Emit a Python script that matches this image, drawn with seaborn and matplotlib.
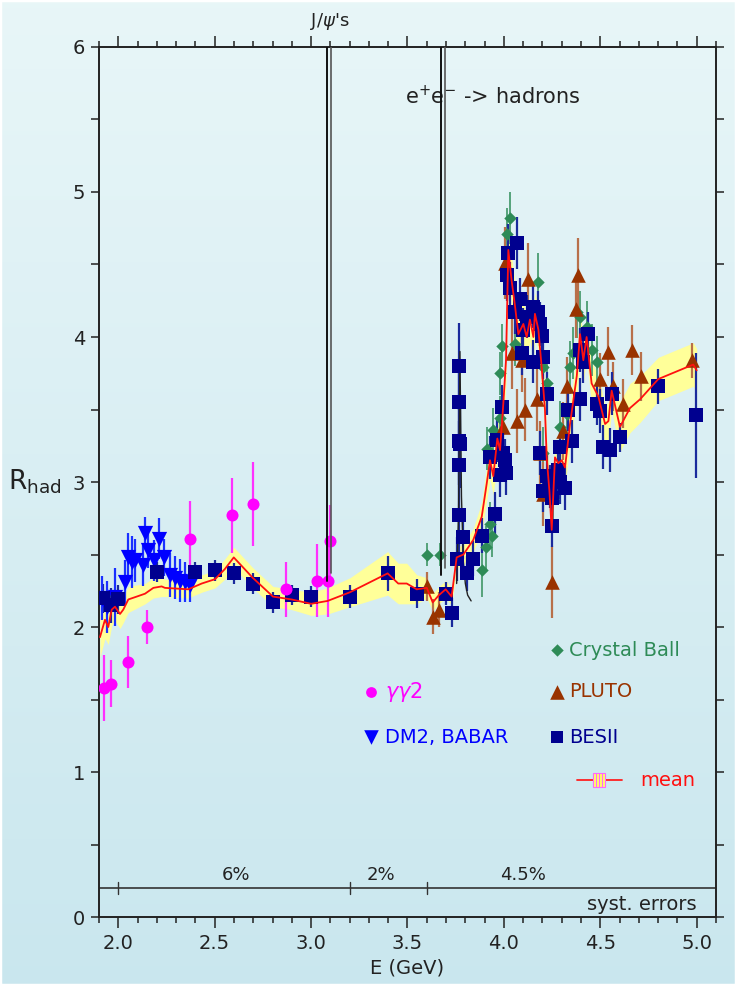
import numpy as np
import matplotlib
matplotlib.use("Agg")
import matplotlib.pyplot as plt
import seaborn as sns
from matplotlib.ticker import MultipleLocator
from matplotlib.patches import Rectangle

sns.set_theme(style="white")
plt.rcParams['font.family'] = ['DejaVu Sans']
plt.rcParams['mathtext.fontset'] = 'dejavusans'

# ---------------- data ----------------
gg2_E = [1.926, 1.960, 2.050, 2.150, 2.370, 2.590, 2.700, 2.870, 3.030, 3.090, 3.100]
gg2_R = [1.58, 1.61, 1.76, 2.00, 2.61, 2.77, 2.85, 2.26, 2.32, 2.32, 2.59]
gg2_err = [0.23, 0.16, 0.18, 0.12, 0.26, 0.26, 0.29, 0.19, 0.25, 0.25, 0.25]

dm2_E = [1.914, 1.940, 1.983, 2.035, 2.050, 2.069, 2.087, 2.130, 2.139, 2.156, 2.187,
         2.210, 2.237, 2.268, 2.294, 2.320, 2.346, 2.372]
dm2_R = [2.20, 2.14, 2.21, 2.31, 2.48, 2.45, 2.46, 2.43, 2.65, 2.53, 2.46,
         2.61, 2.48, 2.36, 2.34, 2.32, 2.31, 2.29]
dm2_err = [0.15, 0.18, 0.20, 0.15, 0.17, 0.18, 0.15, 0.15, 0.11, 0.12, 0.14,
           0.14, 0.13, 0.15, 0.15, 0.15, 0.14, 0.12]

bes_E = [1.922, 1.960, 2.000, 2.200, 2.400, 2.500, 2.600, 2.700, 2.800, 2.900, 3.000,
         3.200, 3.400, 3.548, 3.698, 3.729,
         3.768, 3.768, 3.766, 3.770, 3.768, 3.766, 3.755, 3.786, 3.807, 3.841, 3.885,
         3.928, 3.954, 3.963, 3.980, 3.989, 3.997, 4.006, 4.010,
         4.015, 4.023, 4.032, 4.058, 4.067, 4.084, 4.095, 4.101, 4.118, 4.153, 4.153,
         4.179, 4.187, 4.196, 4.204, 4.222,
         4.187, 4.204, 4.222, 4.239, 4.248, 4.250, 4.282, 4.291, 4.317, 4.291, 4.334,
         4.352, 4.395, 4.395, 4.412, 4.438, 4.481, 4.499, 4.516, 4.550, 4.559, 4.602,
         4.801, 4.996]
bes_R = [2.20, 2.15, 2.19, 2.38, 2.38, 2.39, 2.37, 2.30, 2.17, 2.22, 2.21,
         2.21, 2.37, 2.23, 2.23, 2.10,
         3.80, 3.55, 3.28, 3.26, 3.12, 2.77, 2.47, 2.62, 2.37, 2.47, 2.63,
         3.17, 2.78, 3.29, 3.05, 3.52, 3.20, 3.15, 3.06,
         4.43, 4.58, 4.34, 4.17, 4.65, 4.26, 3.89, 4.05, 4.14, 4.21, 3.83,
         4.17, 4.09, 4.01, 3.86, 3.61,
         3.20, 2.94, 3.04, 2.97, 2.70, 2.89, 3.08, 3.00, 2.96, 3.24, 3.50,
         3.28, 3.57, 3.91, 3.83, 4.02, 3.54, 3.49, 3.24, 3.22, 3.61, 3.31,
         3.66, 3.46]
bes_err = [0.10, 0.12, 0.10, 0.07, 0.07, 0.07, 0.07, 0.07, 0.07, 0.07, 0.07,
           0.08, 0.12, 0.10, 0.08, 0.10,
           0.30, 0.30, 0.30, 0.30, 0.30, 0.30, 0.15, 0.15, 0.12, 0.12, 0.12,
           0.15, 0.15, 0.15, 0.15, 0.15, 0.15, 0.15, 0.15,
           0.18, 0.20, 0.18, 0.15, 0.18, 0.15, 0.15, 0.15, 0.15, 0.15, 0.15,
           0.15, 0.15, 0.15, 0.15, 0.15,
           0.15, 0.15, 0.15, 0.15, 0.15, 0.15, 0.15, 0.15, 0.15, 0.15, 0.15,
           0.15, 0.15, 0.15, 0.15, 0.15, 0.15, 0.15, 0.15, 0.15, 0.15, 0.10,
           0.12, 0.43]

pluto_E = [3.600, 3.630, 3.665, 3.997, 4.006, 4.040, 4.067, 4.092, 4.110, 4.127, 4.170,
           4.187, 4.204, 4.248, 4.308, 4.325, 4.374, 4.386, 4.499, 4.542, 4.568, 4.619,
           4.662, 4.711, 4.977]
pluto_R = [2.28, 2.07, 2.12, 3.38, 4.51, 3.89, 3.42, 3.84, 3.50, 4.40, 3.57,
           3.20, 2.92, 2.31, 3.35, 3.66, 4.19, 4.43, 3.71, 3.90, 3.66, 3.54,
           3.91, 3.73, 3.84]
pluto_err = [0.10, 0.12, 0.12, 0.20, 0.25, 0.25, 0.22, 0.22, 0.22, 0.25, 0.22,
             0.22, 0.22, 0.25, 0.20, 0.20, 0.20, 0.25, 0.18, 0.17, 0.17, 0.17,
             0.17, 0.17, 0.12]

cb_E = [3.600, 3.669, 3.885, 3.905, 3.911, 3.928, 3.937, 3.942, 3.979, 3.980, 3.989,
        4.015, 4.032, 4.060, 4.179, 4.204, 4.222, 4.204, 4.257, 4.291, 4.325, 4.343,
        4.360, 4.378, 4.395, 4.429, 4.455, 4.481]
cb_R = [2.50, 2.50, 2.39, 2.55, 3.23, 2.71, 2.63, 3.36, 3.44, 3.75, 3.94,
        4.71, 4.82, 3.95, 4.38, 3.79, 3.68, 3.20, 2.88, 3.38, 3.47, 3.79,
        3.89, 4.17, 4.14, 4.07, 3.91, 3.83]
cb_err = [0.08, 0.08, 0.18, 0.15, 0.15, 0.15, 0.15, 0.15, 0.15, 0.15, 0.15,
          0.18, 0.18, 0.15, 0.20, 0.18, 0.18, 0.18, 0.18, 0.18, 0.18, 0.18,
          0.18, 0.18, 0.18, 0.18, 0.18, 0.18]

mean_E = [1.905, 1.931, 1.948, 1.966, 1.983, 2.009, 2.026, 2.052, 2.096, 2.139, 2.182,
          2.225, 2.242, 2.363, 2.433, 2.502, 2.553, 2.599, 2.697, 2.802, 2.899, 3.000,
          3.086, 3.202, 3.397, 3.452, 3.496, 3.548, 3.600, 3.631, 3.663, 3.698, 3.729,
          3.755, 3.790, 3.841, 3.885, 3.911, 3.928, 3.945, 3.966, 3.980, 3.997, 4.011,
          4.023, 4.040, 4.058, 4.075, 4.101, 4.118, 4.135, 4.153, 4.161, 4.179, 4.196,
          4.213, 4.222, 4.236, 4.248, 4.265, 4.282, 4.300, 4.317, 4.343, 4.378, 4.395,
          4.412, 4.429, 4.455, 4.490, 4.525, 4.542, 4.559, 4.602, 4.654, 4.706, 4.801,
          4.982, 5.000]
mean_R = [1.93, 2.05, 2.00, 2.12, 2.14, 2.09, 2.12, 2.19, 2.21, 2.23, 2.27,
          2.28, 2.27, 2.26, 2.30, 2.33, 2.40, 2.48, 2.34, 2.21, 2.19, 2.16,
          2.18, 2.24, 2.37, 2.30, 2.30, 2.26, 2.27, 2.17, 2.22, 2.26, 2.21,
          2.48, 2.50, 2.60, 2.76, 2.99, 3.15, 3.04, 3.30, 3.22, 3.54, 3.84,
          4.60, 4.39, 4.21, 4.02, 4.09, 4.00, 4.12, 4.00, 4.16, 4.05, 3.79,
          3.50, 3.17, 2.94, 2.67, 3.17, 3.13, 3.15, 3.10, 3.40, 3.73, 4.02,
          3.84, 4.00, 3.68, 3.59, 3.40, 3.42, 3.63, 3.38, 3.51, 3.57, 3.71,
          3.81, 3.77]
mean_err = [0.14, 0.13, 0.12, 0.11, 0.10, 0.10, 0.09, 0.09, 0.08, 0.07, 0.07,
            0.07, 0.06, 0.06, 0.06, 0.06, 0.07, 0.07, 0.07, 0.07, 0.07, 0.08,
            0.09, 0.10, 0.15, 0.14, 0.14, 0.10, 0.07, 0.06, 0.06, 0.06, 0.06,
            0.07, 0.07, 0.08, 0.10, 0.12, 0.13, 0.13, 0.14, 0.14, 0.15, 0.16,
            0.18, 0.17, 0.16, 0.15, 0.15, 0.15, 0.15, 0.15, 0.15, 0.15, 0.15,
            0.14, 0.13, 0.13, 0.13, 0.13, 0.13, 0.13, 0.13, 0.14, 0.15, 0.16,
            0.15, 0.15, 0.15, 0.14, 0.13, 0.13, 0.14, 0.17, 0.17, 0.16, 0.15,
            0.15, 0.15]

res_names = ["J/psi", "psi(2S)"]
res_E_lo = [3.085, 3.676]
res_E_hi = [3.101, 3.695]
res_base = [2.32, 2.36]

psi3770_E = [3.755, 3.765, 3.772, 3.780, 3.790, 3.800, 3.812, 3.830]
psi3770_R = [2.30, 2.80, 3.90, 2.90, 2.45, 2.30, 2.22, 2.18]

syst_E = [2.0, 3.2, 3.6]
syst_labels = ["6%", "2%", "4.5%"]
syst_label_E = [2.61, 3.36, 4.10]

# ---------------- figure ----------------
fig = plt.figure(figsize=(7.36, 9.85), dpi=100)
bg = fig.add_axes([0, 0, 1, 1], zorder=-10)
g = np.linspace(0, 1, 256)[:, None, None]
top = np.array([0.91, 0.965, 0.972])
bot = np.array([0.79, 0.905, 0.935])
bg.imshow(top + (bot - top) * g, aspect='auto', extent=[0, 1, 0, 1])
bg.set_xlim(0, 1); bg.set_ylim(0, 1)
bg.axis('off')
fig.patches.append(Rectangle((0, 0), 1, 1, transform=fig.transFigure, fill=False,
                             edgecolor='white', lw=2.5, zorder=100))

ax = fig.add_axes([0.1345, 0.069, 0.8383, 0.8833])
ax.patch.set_alpha(0)
ax.set_xlim(1.9, 5.1)
ax.set_ylim(0, 6)

# band and mean
lo = [r - e for r, e in zip(mean_R, mean_err)]
hi = [r + e for r, e in zip(mean_R, mean_err)]
ax.fill_between(mean_E, lo, hi, color='#ffff99', lw=0, zorder=1)

# error bars
ax.errorbar(cb_E, cb_R, yerr=cb_err, fmt='none', ecolor='#55a27a', elinewidth=1.4, zorder=2)
ax.errorbar(pluto_E, pluto_R, yerr=pluto_err, fmt='none', ecolor='#b8704a', elinewidth=1.6, zorder=2)
ax.errorbar(bes_E, bes_R, yerr=bes_err, fmt='none', ecolor='#1a2a9c', elinewidth=1.6, zorder=2)
ax.errorbar(dm2_E, dm2_R, yerr=dm2_err, fmt='none', ecolor='#1a30ff', elinewidth=1.6, zorder=2)
ax.errorbar(gg2_E, gg2_R, yerr=gg2_err, fmt='none', ecolor='#ff30ff', elinewidth=1.6, zorder=2)

# markers
sns.scatterplot(x=cb_E, y=cb_R, marker='D', s=40, color='#2e8b57', linewidth=0, ax=ax, zorder=3)
sns.scatterplot(x=pluto_E, y=pluto_R, marker='^', s=110, color='#993300', linewidth=0, ax=ax, zorder=3)
sns.scatterplot(x=bes_E, y=bes_R, marker='s', s=95, color='#00008f', linewidth=0, ax=ax, zorder=3.2)
sns.scatterplot(x=dm2_E, y=dm2_R, marker='v', s=120, color='#0000ff', linewidth=0, ax=ax, zorder=3.1)
sns.scatterplot(x=gg2_E, y=gg2_R, marker='o', s=75, color='#ff00ff', linewidth=0, ax=ax, zorder=3.3)

sns.lineplot(x=mean_E, y=mean_R, sort=False, estimator=None, color='#ff1010', lw=1.3, ax=ax, zorder=4)

# narrow resonances
for elo, ehi, b in zip(res_E_lo, res_E_hi, res_base):
    ax.plot([elo, elo], [b, 6.0], color='#111111', lw=1.4, zorder=5, clip_on=True)
    ax.plot([ehi, ehi], [b + 0.05, 6.0], color='#555555', lw=1.2, zorder=5, clip_on=True)
ax.plot(psi3770_E, psi3770_R, color='#222222', lw=1.0, zorder=2.5)

# systematic errors line
ax.axhline(0.2, color='#333333', lw=1.2, zorder=2)
for e in syst_E:
    ax.plot([e, e], [0.16, 0.24], color='#333333', lw=1.0)
for lab, e in zip(syst_labels, syst_label_E):
    ax.text(e, 0.29, lab, ha='center', va='center', fontsize=13, color='#222222')
ax.text(5.0, 0.085, 'syst. errors', ha='right', va='center', fontsize=14, color='#222222')

# axes styling
for sp in ax.spines.values():
    sp.set_color('#222222'); sp.set_linewidth(1.4)
ax.xaxis.set_major_locator(MultipleLocator(0.5))
ax.xaxis.set_minor_locator(MultipleLocator(0.1))
ax.yaxis.set_major_locator(MultipleLocator(1))
ax.yaxis.set_minor_locator(MultipleLocator(0.5))
ax.tick_params(axis='x', which='both', top=True, bottom=True, direction='out',
               labeltop=False, color='#222222', width=1.1)
ax.tick_params(axis='x', which='major', length=8, pad=4, labelsize=14, labelcolor='#222222')
ax.tick_params(axis='x', which='minor', length=4)
ax.tick_params(axis='y', which='both', left=True, right=True, direction='out',
               labelright=False, color='#222222', width=1.1, length=6)
ax.tick_params(axis='y', which='major', pad=4, labelsize=14, labelcolor='#222222')
ax.set_xlabel('')
ax.set_ylabel('')

fig.text(8 / 736, 1 - 482 / 985, r'R$_{\mathregular{had}}$', fontsize=19, color='#222222',
         ha='left', va='center')
fig.text(407 / 736, 1 - 968 / 985, 'E (GeV)', fontsize=14, color='#222222', ha='center', va='center')
fig.text(330 / 736, 1 - 21 / 985, r"J/$\psi$'s", fontsize=13, color='#222222', ha='center', va='center')
ax.text(3.487, 5.66, r'e$^{+}$e$^{-}$ -> hadrons', fontsize=15, color='#222222', ha='left', va='center')

# legend (in-plot)
ax.scatter([4.275], [1.84], marker='D', s=40, color='#2e8b57', lw=0)
ax.text(4.338, 1.84, 'Crystal Ball', color='#2e8b57', fontsize=14, va='center')
ax.scatter([4.275], [1.555], marker='^', s=110, color='#993300', lw=0)
ax.text(4.338, 1.555, 'PLUTO', color='#993300', fontsize=14, va='center')
ax.scatter([4.275], [1.24], marker='s', s=75, color='#00008f', lw=0)
ax.text(4.338, 1.24, 'BESII', color='#00008f', fontsize=14, va='center')
ax.scatter([3.311], [1.555], marker='o', s=60, color='#ff00ff', lw=0)
ax.text(3.383, 1.555, r'$\gamma\gamma2$', color='#ff00ff', fontsize=15, va='center')
ax.scatter([3.311], [1.24], marker='v', s=110, color='#0000ff', lw=0)
ax.text(3.383, 1.24, 'DM2, BABAR', color='#0000ff', fontsize=14, va='center')
ax.plot([4.379, 4.613], [0.945, 0.945], color='#ff2020', lw=1.3)
ax.add_patch(Rectangle((4.462, 0.90), 0.062, 0.09, facecolor='#ffff66', edgecolor='#ff66ff', lw=0.8, zorder=5))
for xx in [4.478, 4.493, 4.508]:
    ax.plot([xx, xx], [0.90, 0.99], color='#ff66ff', lw=0.8, zorder=6)
ax.text(4.706, 0.945, 'mean', color='#ff1010', fontsize=14, va='center')

fig.savefig('out.png', dpi=100)
